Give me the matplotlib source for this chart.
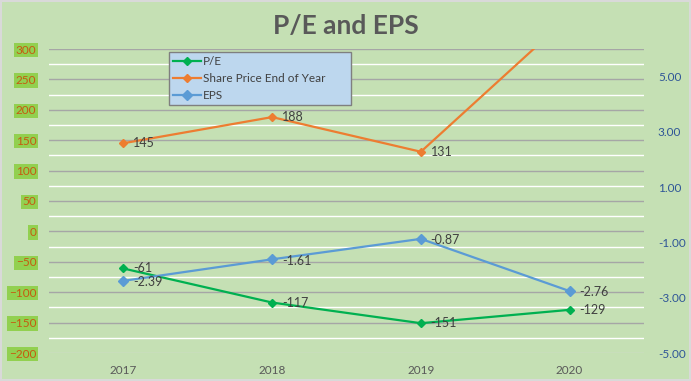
import matplotlib
matplotlib.use("Agg")
import matplotlib.pyplot as plt
from matplotlib.ticker import MultipleLocator, FixedLocator

# chart data
years = ["2017", "2018", "2019", "2020"]
pe = [-61, -117, -151, -129]
share_price = [145, 188, 131, 354]   # 2020 value runs off the top, estimated
eps = [-2.39, -1.61, -0.87, -2.76]

left_ticks = [-200, -150, -100, -50, 0, 50, 100, 150, 200, 250, 300]
right_ticks = [-5, -3, -1, 1, 3, 5]

plt.rcParams["font.family"] = ["Lato", "DejaVu Sans"]

bg = "#C5E0B4"
fig = plt.figure(figsize=(6.91, 3.81), dpi=100, facecolor=bg,
                 edgecolor="#D9D9D9", linewidth=1.5)
ax = fig.add_axes([49 / 691, 1 - 353 / 381, (644 - 49) / 691, (353 - 49) / 381])
ax.set_facecolor("none")
ax2 = ax.twinx()

x = list(range(len(years)))

# left axis: P/E and share price
ax.set_ylim(-200, 300)
ax.yaxis.set_major_locator(FixedLocator(left_ticks))
ax.yaxis.set_minor_locator(MultipleLocator(25))
ax.grid(which="major", axis="y", color="#A6A6A6", lw=1)
ax.grid(which="minor", axis="y", color="white", lw=1)
ax.set_axisbelow(True)
ax.yaxis.get_gridlines()[0].set_color("#D9D9D9")
ax.set_xlim(-0.5, len(years) - 0.5)
ax.set_xticks(x)
ax.set_xticklabels(years)
ax.tick_params(axis="x", length=0, pad=9, labelsize=8.5, labelcolor="#595959")
ax.tick_params(axis="y", which="both", length=0, pad=9, labelsize=8.5,
               labelcolor="#C55A11")
for t in ax.get_yticklabels():
    t.set_bbox(dict(facecolor="#92D050", edgecolor="none", pad=1.2))

l1, = ax.plot(x, pe, color="#00B050", lw=1.6, marker="D", ms=4, label="P/E")
l2, = ax.plot(x, share_price, color="#ED7D31", lw=1.6, marker="D", ms=4,
              label="Share Price End of Year")

# right axis: EPS
ax2.set_ylim(-5, 6)
ax2.yaxis.set_major_locator(FixedLocator(right_ticks))
ax2.set_yticklabels(["%.2f" % v for v in right_ticks])
ax2.tick_params(axis="y", length=0, pad=10, labelsize=8.5, labelcolor="#2F5597")
l3, = ax2.plot(x, eps, color="#5B9BD5", lw=1.6, marker="D", ms=5, label="EPS")

for s in list(ax.spines.values()) + list(ax2.spines.values()):
    s.set_visible(False)

# data labels
for xi, v in zip(x, pe):
    ax.annotate("%d" % v, (xi, v), xytext=(7, 0), textcoords="offset points",
                ha="left", va="center", fontsize=9, color="#404040")
for xi, v in zip(x, share_price):
    ax.annotate("%d" % v, (xi, v), xytext=(7, 0), textcoords="offset points",
                ha="left", va="center", fontsize=9, color="#404040",
                annotation_clip=True)
for xi, v in zip(x, eps):
    ax2.annotate("%.2f" % v, (xi, v), xytext=(7, -1), textcoords="offset points",
                 ha="left", va="center", fontsize=9, color="#404040")

fig.text(0.5, 1 - 26 / 381, "P/E and EPS", ha="center", va="center",
         fontsize=19, fontweight="bold", color="#595959")

leg = fig.legend(handles=[l1, l2, l3], loc="upper left", mode="expand",
                 bbox_to_anchor=(169 / 691, 1 - 103 / 381, 182 / 691, 51 / 381),
                 fontsize=8.5, frameon=True, fancybox=False, handlelength=2.4,
                 labelspacing=0.5, borderpad=0.35, handletextpad=0.1,
                 borderaxespad=0)
leg.get_frame().set_facecolor("#BDD7EE")
leg.get_frame().set_edgecolor("#7F7F7F")
leg.get_frame().set_alpha(1)
for t in leg.get_texts():
    t.set_color("#404040")

fig.savefig("out.png", dpi=100, facecolor=fig.get_facecolor(),
            edgecolor=fig.get_edgecolor())
